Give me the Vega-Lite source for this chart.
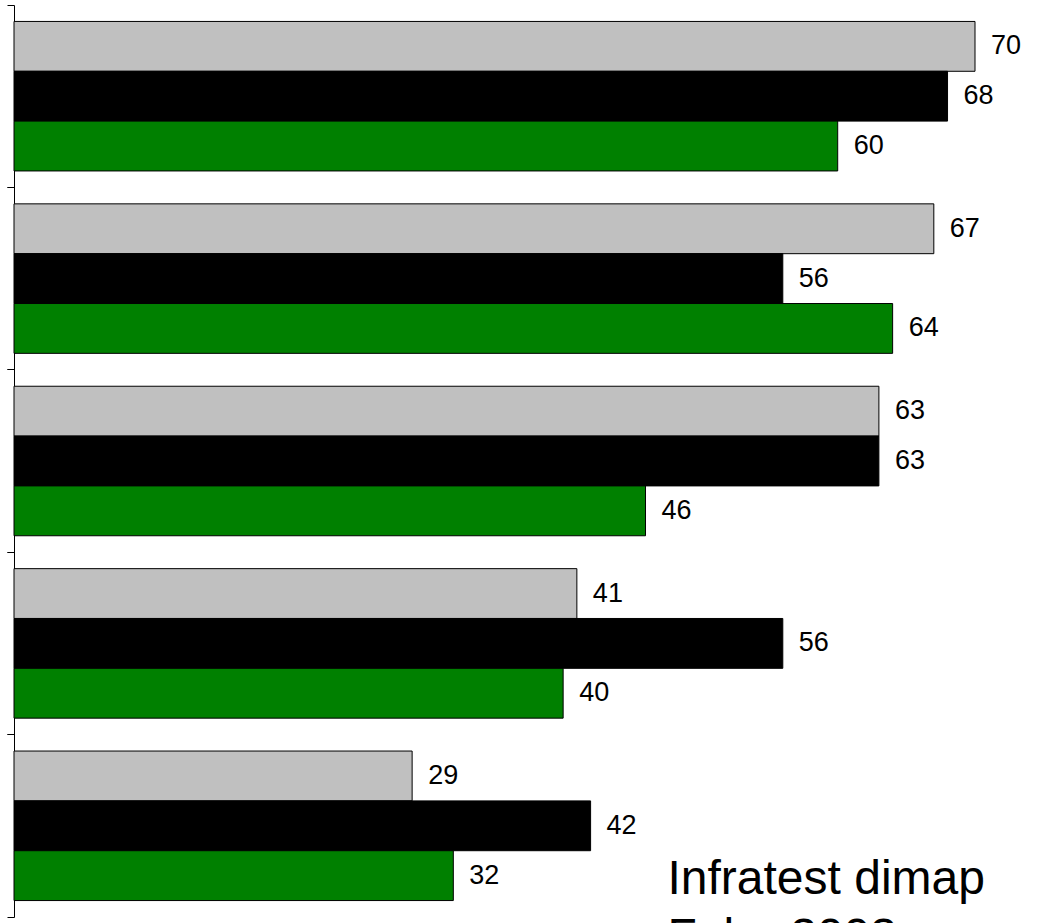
{
  "$schema": "https://vega.github.io/schema/vega-lite/v6.json",
  "width": 961,
  "height": 912,
  "autosize": {"type": "none"},
  "padding": {"left": 14, "top": 5, "right": 63, "bottom": 6},
  "background": "white",
  "config": {
    "view": {"stroke": null},
    "font": "Liberation Sans",
    "axis": {"grid": false}
  },
  "data": {
    "values": [
      {"group": "A", "series": "s1", "value": 70},
      {"group": "A", "series": "s2", "value": 68},
      {"group": "A", "series": "s3", "value": 60},
      {"group": "B", "series": "s1", "value": 67},
      {"group": "B", "series": "s2", "value": 56},
      {"group": "B", "series": "s3", "value": 64},
      {"group": "C", "series": "s1", "value": 63},
      {"group": "C", "series": "s2", "value": 63},
      {"group": "C", "series": "s3", "value": 46},
      {"group": "D", "series": "s1", "value": 41},
      {"group": "D", "series": "s2", "value": 56},
      {"group": "D", "series": "s3", "value": 40},
      {"group": "E", "series": "s1", "value": 29},
      {"group": "E", "series": "s2", "value": 42},
      {"group": "E", "series": "s3", "value": 32}
    ]
  },
  "resolve": {"axis": {"y": "independent"}},
  "layer": [
    {
      "mark": {"type": "bar", "stroke": "black", "strokeWidth": 1},
      "encoding": {
        "y": {
          "field": "group", "type": "nominal", "sort": ["A", "B", "C", "D", "E"],
          "scale": {"paddingInner": 0, "paddingOuter": 0},
          "axis": {"title": null, "labels": false, "orient": "left", "bandPosition": 0, "tickSize": 7, "tickColor": "black", "domainColor": "black", "tickWidth": 1, "domainWidth": 1}
        },
        "yOffset": {
          "field": "series", "type": "nominal", "sort": ["s1", "s2", "s3"],
          "scale": {"paddingInner": 0, "paddingOuter": 0.33}
        },
        "x": {
          "field": "value", "type": "quantitative",
          "scale": {"domain": [0, 70], "nice": false, "zero": true},
          "axis": null
        },
        "color": {
          "field": "series", "type": "nominal",
          "scale": {"domain": ["s1", "s2", "s3"], "range": ["#C0C0C0", "#000000", "#008000"]},
          "legend": null
        }
      }
    },
    {
      "mark": {"type": "point", "opacity": 0},
      "encoding": {
        "y": {
          "field": "group", "type": "nominal", "sort": ["A", "B", "C", "D", "E"],
          "axis": {"title": null, "labels": false, "orient": "left", "domain": false, "offset": 0, "bandPosition": 1, "tickSize": 7, "tickColor": "black", "tickWidth": 1}
        }
      }
    },
    {
      "mark": {"type": "text", "align": "left", "baseline": "middle", "dx": 16, "fontSize": 27, "color": "black"},
      "encoding": {
        "y": {"field": "group", "type": "nominal", "sort": ["A", "B", "C", "D", "E"], "axis": null},
        "yOffset": {"field": "series", "type": "nominal", "sort": ["s1", "s2", "s3"]},
        "x": {"field": "value", "type": "quantitative"},
        "text": {"field": "value", "type": "quantitative"}
      }
    },
    {
      "data": {"values": [{}]},
      "mark": {"type": "text", "align": "left", "baseline": "alphabetic", "fontSize": 48, "lineHeight": 58, "dy": 68, "color": "black", "text": ["Infratest dimap", "Febr. 2003"]},
      "encoding": {
        "x": {"datum": 47.6, "type": "quantitative"},
        "y": {"datum": "E", "type": "nominal", "axis": null}
      }
    }
  ]
}
